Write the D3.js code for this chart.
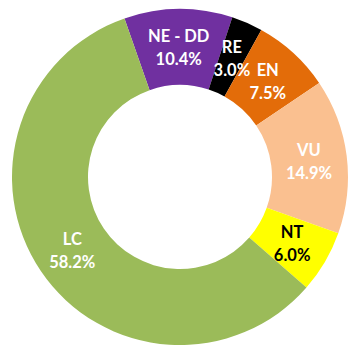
<!DOCTYPE html>
<html>
<head>
<meta charset="utf-8">
<script src="https://cdn.jsdelivr.net/npm/d3@7"></script>
<style>
  body { margin: 0; background: #fff; }
  text { font-family: Lato, "Open Sans", sans-serif; font-weight: bold; }
</style>
</head>
<body>
<svg id="chart" width="360" height="355"></svg>
<script>
// data, in the clockwise order of the ring starting at NE - DD
const categories = ["NE - DD", "RE", "EN", "VU", "NT", "LC"];
const shares = [10.4, 3.0, 7.5, 14.9, 6.0, 58.2];
const colors = ["#7030A0", "#000000", "#E36C09", "#FAC090", "#FFFF00", "#9BBB59"];
const textColors = ["#fff", "#fff", "#fff", "#fff", "#000", "#fff"];

const cx = 180, cy = 177;
const outerR = 168, innerR = 92;
const startDeg = -19.3;

const svg = d3.select("#chart");
const g = svg.append("g").attr("transform", `translate(${cx},${cy})`);

const pie = d3.pie()
  .sort(null)
  .value(d => d)
  .startAngle(startDeg * Math.PI / 180)
  .endAngle((startDeg + 360) * Math.PI / 180);

const arcs = pie(shares);

const arc = d3.arc().innerRadius(innerR).outerRadius(outerR);

g.selectAll("path.slice")
  .data(arcs)
  .enter().append("path")
    .attr("class", "slice")
    .attr("d", arc)
    .attr("fill", (d, i) => colors[i]);

// labels at centroid, two lines
const lbl = g.selectAll("text.label")
  .data(arcs)
  .enter().append("text")
    .attr("class", "label")
    .attr("transform", d => `translate(${arc.centroid(d)})`)
    .attr("text-anchor", "middle")
    .attr("fill", (d, i) => textColors[i])
    .style("font-size", "16.5px");

lbl.append("tspan")
  .attr("x", 0)
  .attr("y", -5)
  .text((d, i) => categories[i]);

lbl.append("tspan")
  .attr("x", 0)
  .attr("y", 18)
  .text(d => d.data.toFixed(1) + "%");
</script>
</body>
</html>
